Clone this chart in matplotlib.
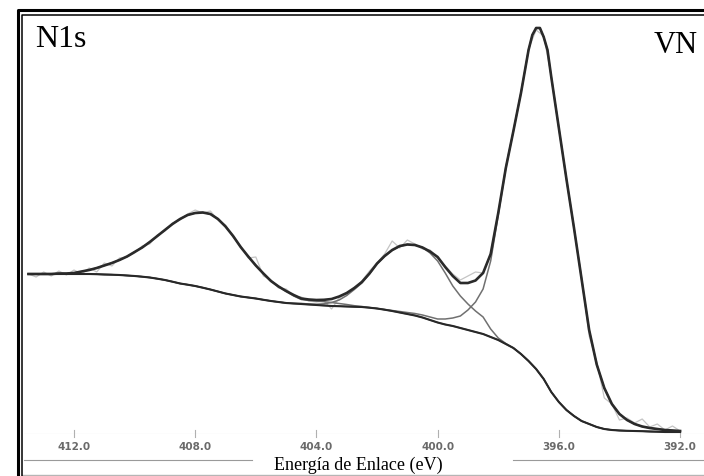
import matplotlib
matplotlib.use('Agg')
import matplotlib.pyplot as plt
from matplotlib.lines import Line2D

# binding energy grid (eV) and fitted curves (arbitrary intensity units)
energy = [413.5, 413.25, 413.0, 412.75, 412.5, 412.25, 412.0, 411.75, 411.5, 411.25,
          411.0, 410.75, 410.5, 410.25, 410.0, 409.75, 409.5, 409.25, 409.0, 408.75,
          408.5, 408.25, 408.0, 407.75, 407.5, 407.25, 407.0, 406.75, 406.5, 406.25,
          406.0, 405.75, 405.5, 405.25, 405.0, 404.75, 404.5, 404.25, 404.0, 403.75,
          403.5, 403.25, 403.0, 402.75, 402.5, 402.25, 402.0, 401.75, 401.5, 401.25,
          401.0, 400.75, 400.5, 400.25, 400.0, 399.75, 399.5, 399.25, 399.0, 398.75,
          398.5, 398.25, 398.0, 397.75, 397.5, 397.25, 397.0, 396.875, 396.75, 396.625,
          396.5, 396.375, 396.25, 396.0, 395.75, 395.5, 395.25, 395.0, 394.75, 394.5,
          394.25, 394.0, 393.75, 393.5, 393.25, 393.0, 392.75, 392.5, 392.25, 392.0]

envelope = [160, 160, 160, 160, 160.5, 160.5, 161, 162.5, 164, 166,
            168.5, 171, 174, 177.5, 182, 186.5, 192, 198, 204, 210,
            215, 219, 221, 221.5, 220, 215, 207.5, 198, 187, 177.5,
            168.5, 160.5, 153, 147.5, 143, 139, 135.5, 134.5, 134, 134.2,
            135, 137.5, 141, 146, 152, 160.5, 170.5, 178, 184, 188,
            189.5, 189, 186.5, 182.5, 177, 167, 158, 151, 151, 153.5,
            161, 180, 221, 266, 303, 341, 384, 399, 406, 406,
            397, 384, 357, 306, 255, 206, 155, 104, 69.5, 46,
            30, 20, 14, 10, 7.5, 6, 5, 4, 3.5, 3]

background = [160, 160, 160, 160, 160, 160, 160, 160, 160, 159.8,
              159.5, 159.3, 159, 158.5, 158, 157.3, 156.5, 155.3, 154, 152.3,
              150.5, 149.3, 148, 146.3, 144.5, 142.5, 140.5, 139, 137.5, 136.5,
              135.5, 134.2, 133, 132, 131, 130.5, 130, 129.5, 129, 128.5,
              128, 127.8, 127.5, 127.2, 127, 126.3, 125.5, 124.3, 123, 121.5,
              120, 118.5, 116.5, 114, 111.5, 109.5, 108, 106, 104, 102,
              100, 97, 94, 90, 86, 80, 73, 69, 65, 60,
              55, 48.5, 42, 32, 24, 18, 13, 10, 7, 5,
              4, 3.5, 3.2, 3, 2.8, 2.5, 2.3, 2, 2, 2]

peak_408 = [160, 160, 160, 160, 160.5, 160.5, 161, 162.5, 164, 166,
            168.5, 171, 174, 177.5, 182, 186.5, 192, 198, 204, 210,
            215, 219, 221, 221.5, 220, 215, 207.5, 198, 187, 177.5,
            168.5, 160.5, 153, 147.5, 142.5, 138, 134.5, 133.5, 133, 132.3,
            131.5, 130.5, 129.5, 128.3, 127.5, 126.5, 125.5, 124.3, 123, 121.5,
            120, 118.5, 116.5, 114, 111.5, 109.5, 108, 106, 104, 102,
            100, 97, 94, 90, 86, 80, 73, 69, 65, 60,
            55, 48.5, 42, 32, 24, 18, 13, 10, 7, 5,
            4, 3.5, 3.2, 3, 2.8, 2.5, 2.3, 2, 2, 2]

peak_401 = [160, 160, 160, 160, 160, 160, 160, 160, 160, 159.8,
            159.5, 159.3, 159, 158.5, 158, 157.3, 156.5, 155.3, 154, 152.3,
            150.5, 149.3, 148, 146.3, 144.5, 142.5, 140.5, 139, 137.5, 136.5,
            135.5, 134.2, 133, 132, 131, 130.6, 130.6, 130, 129.8, 130.2,
            131.5, 134, 138.5, 144.5, 151, 160, 170, 177.5, 183.5, 187.5,
            189.5, 189, 186.5, 181, 173, 161, 148, 138, 130, 123,
            117, 105, 96, 90.5, 86, 80, 73, 69, 65, 60,
            55, 48.5, 42, 32, 24, 18, 13, 10, 7, 5,
            4, 3.5, 3.2, 3, 2.8, 2.5, 2.3, 2, 2, 2]

peak_397 = [160, 160, 160, 160, 160, 160, 160, 160, 160, 159.8,
            159.5, 159.3, 159, 158.5, 158, 157.3, 156.5, 155.3, 154, 152.3,
            150.5, 149.3, 148, 146.3, 144.5, 142.5, 140.5, 139, 137.5, 136.5,
            135.5, 134.2, 133, 132, 131, 130.5, 130, 129.5, 129, 128.5,
            128, 127.8, 127.5, 127.2, 127, 126.3, 125.5, 124.5, 123.5, 122.5,
            121.5, 120.5, 119, 117, 115, 115, 116, 118, 124, 132,
            145, 173, 219, 266, 303, 341, 384, 399, 406, 406,
            397, 384, 357, 306, 255, 206, 155, 104, 69.5, 46,
            30, 20, 14, 10, 7.5, 6, 5, 4, 3.5, 3]

# measured spectrum
raw_energy = [413.5, 413.25, 413.0, 412.75, 412.5, 412.25, 412.0, 411.75, 411.5, 411.25,
              411.0, 410.75, 410.5, 410.25, 410.0, 409.75, 409.5, 409.25, 409.0, 408.75,
              408.5, 408.25, 408.0, 407.75, 407.5, 407.25, 407.0, 406.75, 406.5, 406.25,
              406.0, 405.75, 405.5, 405.25, 405.0, 404.75, 404.5, 404.25, 404.0, 403.75,
              403.5, 403.25, 403.0, 402.75, 402.5, 402.25, 402.0, 401.75, 401.5, 401.25,
              401.0, 400.75, 400.5, 400.25, 400.0, 399.75, 399.5, 399.25, 399.0, 398.75,
              398.5, 398.25, 398.0, 397.75, 397.5, 397.25, 397.0, 396.75, 396.5, 396.25,
              396.0, 395.75, 395.5, 395.25, 395.0, 394.75, 394.5, 394.25, 394.0, 393.75,
              393.5, 393.25, 393.0, 392.75, 392.5, 392.25, 392.0]
raw = [160, 157, 162, 158, 163, 159, 164, 160, 166, 162,
       171, 168, 176, 177, 181, 188, 190, 199, 203, 211,
       214, 220, 224, 221, 223, 214, 209, 197, 188, 176,
       177, 158, 154, 146, 145, 138, 137, 133, 132, 133,
       125, 136, 140, 146, 153, 163, 171, 180, 193, 186,
       194, 190, 185, 184, 176, 168, 160, 154, 158, 162,
       161, 181, 222, 268, 303, 342, 385, 404, 398, 358,
       306, 255, 206, 157, 98, 72, 36, 30, 14, 16,
       11, 15, 7, 10, 4, 8, 3]

ticks = [412.0, 408.0, 404.0, 400.0, 396.0, 392.0]

W, H = 704, 477
fig = plt.figure(figsize=(W / 100, H / 100), dpi=100)
fig.patch.set_facecolor('white')

ax = fig.add_axes([24 / W, 42 / H, 680 / W, 419 / H])
ax.set_xlim(413.65, 391.21)
ax.set_ylim(0, 419)
ax.axis('off')

ax.plot(raw_energy, raw, color='#c4c4c4', lw=0.9, zorder=1)
ax.plot(energy, peak_408, color='#707070', lw=1.1, zorder=2)
ax.plot(energy, peak_401, color='#707070', lw=1.1, zorder=2)
ax.plot(energy, peak_397, color='#707070', lw=1.1, zorder=2)
ax.plot(energy, background, color='#282828', lw=1.5, zorder=3)
ax.plot(energy, envelope, color='#2a2a2a', lw=1.9, zorder=4,
        solid_joinstyle='round')

# energy axis drawn by hand
ax.axhline(0, color='#cfcfcf', lw=0.8, zorder=0)
for t in ticks:
    ax.plot([t, t], [-3, 4], color='#b0b0b0', lw=0.8, clip_on=False)
    ax.text(t, -12, '%.1f' % t, ha='center', va='center', fontsize=7.5,
            fontweight='bold', color='#6a6a6a', clip_on=False)

serif = ['Liberation Serif', 'DejaVu Serif']
fig.text(35 / W, 1 - 47 / H, 'N1s', family=serif, fontsize=23, va='baseline')
fig.text(698 / W, 1 - 53 / H, 'VN', family=serif, fontsize=22, va='baseline', ha='right')
fig.text(358 / W, 1 - 465 / H, 'Energía de Enlace (eV)', family=serif,
         fontsize=13, ha='center', va='center')

# separators beside the label and double frame
def fig_line(x, y, **kw):
    fig.add_artist(Line2D([p / W for p in x], [1 - p / H for p in y], **kw))

fig_line([24, 252], [461, 461], color='#9a9a9a', lw=0.8)
fig_line([513, 704], [461, 461], color='#9a9a9a', lw=0.8)
fig_line([22, 704], [476, 476], color='#b5b5b5', lw=1.0)
fig_line([17.5, 17.5, 704], [477, 11, 11], color='black', lw=2.2)
fig_line([21.8, 21.8, 704], [477, 15.5, 15.5], color='black', lw=1.1)

fig.savefig('out.png', dpi=100)
